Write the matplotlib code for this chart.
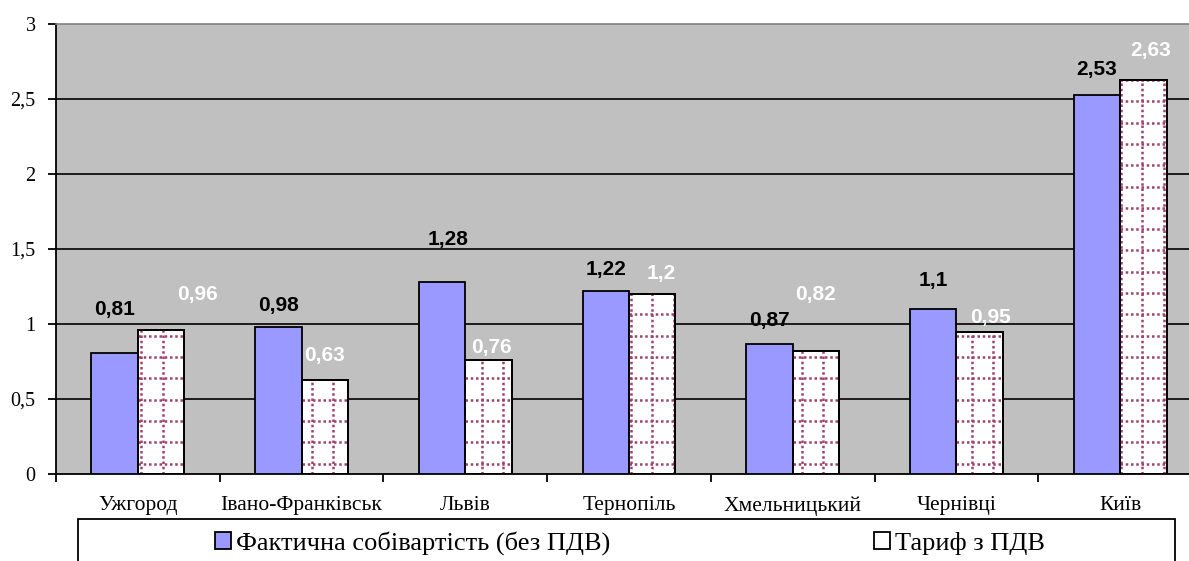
import matplotlib
matplotlib.use("Agg")
import matplotlib.pyplot as plt
import numpy as np
from matplotlib.patches import Rectangle
from matplotlib.ticker import FixedLocator, FuncFormatter

# Data
cities = ["Ужгород", "Івано-Франківськ", "Львів", "Тернопіль",
          "Хмельницький", "Чернівці", "Київ"]
cost = [0.81, 0.98, 1.28, 1.22, 0.87, 1.1, 2.53]
tariff = [0.96, 0.63, 0.76, 1.2, 0.82, 0.95, 2.63]
series_names = ["Фактична собівартість (без ПДВ)", "Тариф з ПДВ"]

# label nudges in pixels (labels were moved by hand in the original)
cost_dx = [0, 0, 6, 0, 0, 0, 0]
cost_dy = [43, 21, 43, 22, 23, 29, 25]
tariff_dx = [36, 0, 3, 9, 0, 11, 7]
tariff_dy = [36, 24, 13, 20, 57, 14, 29]

SERIF = "Liberation Serif"
SANS = "Liberation Sans"
PT = 0.72  # points per pixel at dpi 100

fig = plt.figure(figsize=(11.89, 5.61), dpi=100)
ax = fig.add_axes([56 / 1189, 1 - 474 / 561, 1146 / 1189, 450 / 561])
ax.set_facecolor("#C0C0C0")

x = np.arange(len(cities))
w = 0.284
b1 = ax.bar(x - w / 2, cost, w, color="#9999FF", edgecolor="black", linewidth=1.3, zorder=3)
b2 = ax.bar(x + w / 2, tariff, w, color="white", edgecolor="black", linewidth=1.3, zorder=3)

ax.set_xlim(-0.5, len(cities) - 0.5)
ax.set_ylim(0, 3)

# dotted grid pattern inside the tariff bars
gx = np.arange(-0.5, len(cities), 21.3 / 163.7)
gy = np.arange(0.07, 3, 21.3 / 150)
for bar in b2:
    x0, x1 = bar.get_x(), bar.get_x() + bar.get_width()
    top = bar.get_height()
    for xv in gx[(gx > x0) & (gx < x1)]:
        ln, = ax.plot([xv, xv], [0, top], color="#A0406E", lw=1.8,
                      linestyle=(0, (1, 1.1)), zorder=3.5)
        ln.set_clip_path(bar)
    for yv in gy[gy < top]:
        ln, = ax.plot([x0, x1], [yv, yv], color="#A0406E", lw=1.8,
                      linestyle=(0, (1, 1.1)), zorder=3.5)
        ln.set_clip_path(bar)
    # redraw the edge on top of the pattern
    ax.add_patch(Rectangle((x0, 0), bar.get_width(), top, fill=False,
                           edgecolor="black", linewidth=1.3, zorder=4))

# gridlines
for yv in np.arange(0.5, 3, 0.5):
    ax.axhline(yv, color="black", lw=1.2, zorder=1)

# spines
ax.spines["right"].set_visible(False)
ax.spines["top"].set_color("#808080")
ax.spines["top"].set_linewidth(1.2)
ax.spines["left"].set_linewidth(1.3)
ax.spines["bottom"].set_linewidth(1.3)

# y axis
ax.set_yticks(np.arange(0, 3.01, 0.5))
ax.yaxis.set_major_formatter(FuncFormatter(lambda v, p: f"{v:g}".replace(".", ",")))
ax.tick_params(axis="y", direction="out", length=6, width=1.3, pad=12 * PT,
               labelsize=14.5, labelfontfamily=SERIF)

# x axis: ticks at category boundaries, labels at centers
ax.xaxis.set_major_locator(FixedLocator(np.arange(-0.5, len(cities), 1.0)))
ax.xaxis.set_minor_locator(FixedLocator(x))
ax.xaxis.set_major_formatter(FuncFormatter(lambda v, p: ""))
ax.set_xticklabels(cities, minor=True, fontfamily=SERIF, fontsize=15.5)
ax.tick_params(axis="x", which="major", direction="out", length=6, width=1.3)
ax.tick_params(axis="x", which="minor", length=0, pad=22 * PT)

# value labels
for i in range(len(cities)):
    ax.annotate(f"{cost[i]:g}".replace(".", ","), (x[i] - w / 2, cost[i]),
                xytext=(cost_dx[i] * PT, cost_dy[i] * PT), textcoords="offset points",
                ha="center", va="center", fontsize=15, fontweight="bold",
                fontfamily=SANS, color="black", zorder=5)
    ax.annotate(f"{tariff[i]:g}".replace(".", ","), (x[i] + w / 2, tariff[i]),
                xytext=(tariff_dx[i] * PT, tariff_dy[i] * PT), textcoords="offset points",
                ha="center", va="center", fontsize=15, fontweight="bold",
                fontfamily=SANS, color="white", zorder=5)

# legend box
fig.patches.append(Rectangle((78 / 1189, -0.1), (1175 - 78) / 1189, 0.1 + 1 - 519 / 561,
                             transform=fig.transFigure, fill=False,
                             edgecolor="black", linewidth=1.3))
h1 = Rectangle((0, 0), 1, 1, facecolor="#9999FF", edgecolor="black", linewidth=1.3)
h2 = Rectangle((0, 0), 1, 1, facecolor="white", edgecolor="black", linewidth=1.3)
fig.legend([h1, h2], series_names, loc="center", ncol=2,
           bbox_to_anchor=(630 / 1189, 1 - 543 / 561), frameon=False,
           prop={"family": SERIF, "size": 19}, handlelength=0.6, handleheight=0.6,
           handletextpad=0.2, columnspacing=10.0, borderpad=0)

fig.savefig("out.png", dpi=100)
